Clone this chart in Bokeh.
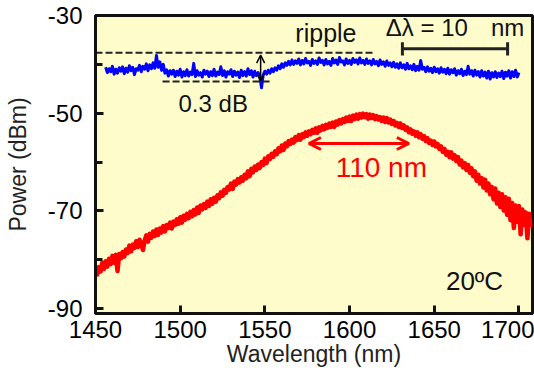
import numpy as np
from bokeh.plotting import figure
from bokeh.models import FixedTicker, Label, Arrow, OpenHead
from bokeh.embed import file_html
from bokeh.resources import INLINE

# ---------------- data ----------------
# red: broadband spectrum, one sample per nm from 1450 nm
red_start, red_step = 1450, 1
red_dbm = [
    -81.2, -83.0, -81.5, -82.4, -80.6, -81.9, -80.3, -81.4, -79.8, -80.9,
    -79.2, -80.6, -79.0, -82.3, -78.8, -79.7, -78.4, -79.3, -77.9, -78.6,
    -77.1, -78.3, -76.9, -77.6, -76.2, -77.4, -75.9, -76.8, -78.0, -76.1,
    -75.0, -76.3, -74.7, -75.5, -74.2, -75.1, -73.8, -74.9, -73.6, -74.4,
    -73.1, -74.2, -72.9, -73.5, -72.4, -73.6, -72.2, -72.9, -71.7, -72.6,
    -71.3, -72.4, -71.0, -71.8, -70.6, -71.5, -70.2, -71.1, -69.8, -70.7,
    -69.3, -70.4, -68.9, -69.7, -68.6, -69.4, -68.1, -69.0, -67.6, -68.5,
    -67.3, -68.1, -66.8, -67.4, -66.2, -66.9, -65.7, -66.3, -65.1, -65.6,
    -64.4, -65.5, -64.0, -64.6, -63.5, -64.2, -63.1, -63.8, -62.6, -63.3,
    -61.9, -62.9, -61.4, -62.1, -60.9, -61.6, -60.5, -61.2, -60.0, -60.6,
    -59.3, -60.2, -58.8, -59.4, -58.3, -58.9, -57.8, -58.4, -57.2, -57.8,
    -56.6, -57.5, -56.2, -56.8, -55.7, -56.3, -55.4, -56.0, -54.9, -55.5,
    -54.5, -55.4, -54.3, -54.9, -53.9, -54.6, -53.7, -54.3, -53.4, -54.0,
    -53.1, -54.0, -52.9, -53.5, -52.6, -53.3, -52.4, -53.0, -52.1, -52.8,
    -51.9, -52.8, -51.7, -52.3, -51.4, -52.1, -51.2, -51.8, -50.9, -51.6,
    -50.7, -51.6, -50.5, -51.2, -50.3, -51.1, -50.2, -50.9, -50.1, -50.8,
    -50.2, -51.1, -50.3, -51.0, -50.4, -51.2, -50.6, -51.3, -50.8, -51.6,
    -50.9, -51.8, -51.0, -51.9, -51.3, -52.2, -51.6, -52.5, -52.0, -52.8,
    -52.1, -53.0, -52.5, -53.4, -52.9, -53.9, -53.3, -54.2, -53.7, -54.6,
    -53.9, -54.9, -54.3, -55.2, -54.7, -55.7, -55.1, -56.1, -55.6, -56.5,
    -55.8, -56.8, -56.3, -57.3, -56.8, -57.9, -57.3, -58.5, -57.9, -59.0,
    -58.0, -59.3, -58.6, -59.8, -59.0, -60.5, -59.7, -61.1, -60.2, -61.6,
    -60.6, -62.2, -61.3, -62.9, -61.9, -63.8, -62.6, -64.4, -63.3, -65.2,
    -63.6, -65.8, -64.4, -66.6, -65.1, -67.6, -65.4, -68.5, -66.3, -69.2,
    -66.6, -69.9, -67.2, -70.8, -67.5, -71.9, -68.4, -73.5, -68.9, -72.2,
    -69.0, -74.8, -69.7, -72.9, -70.3, -75.6, -70.6, -73.4,
]

# blue: filtered spectrum, one sample per nm from 1456 nm
blue_start, blue_step = 1456, 1
blue_dbm = [
    -40.6, -41.7, -40.9, -41.5, -40.4, -42.0, -41.0, -41.8, -40.7, -41.4,
    -40.5, -41.9, -40.8, -41.6, -40.3, -41.3, -40.6, -42.1, -40.9, -41.2,
    -40.2, -41.5, -40.4, -41.0, -39.9, -41.3, -40.1, -40.9, -39.7, -40.8,
    -38.2, -40.6, -39.5, -41.2, -40.0, -41.8, -41.1, -42.4, -41.3, -42.0,
    -41.2, -42.5, -41.4, -42.2, -41.0, -42.6, -41.5, -42.3, -41.1, -42.4,
    -41.6, -42.1, -39.8, -42.5, -41.3, -42.2, -41.7, -42.6, -41.2, -42.0,
    -41.4, -42.5, -41.5, -42.3, -41.0, -42.4, -41.6, -42.1, -40.5, -42.3,
    -41.3, -42.6, -41.5, -42.0, -41.1, -42.5, -41.4, -42.2, -41.6, -42.7,
    -41.2, -42.3, -41.5, -42.4, -40.9, -42.1, -41.3, -42.6, -41.4, -42.3,
    -41.7, -42.5, -44.8, -42.2, -41.4, -42.0, -41.2, -41.8, -40.9, -41.5,
    -40.7, -41.2, -40.3, -40.9, -39.9, -40.6, -39.7, -40.2, -39.4, -40.1,
    -39.1, -40.0, -39.3, -39.8, -38.9, -40.1, -39.2, -39.9, -38.8, -39.7,
    -39.4, -40.2, -39.0, -39.8, -39.3, -40.0, -38.7, -39.6, -39.2, -40.1,
    -39.0, -39.9, -39.4, -40.2, -38.8, -39.7, -39.1, -40.0, -38.6, -39.5,
    -39.3, -40.1, -38.9, -39.8, -39.2, -40.0, -38.8, -39.6, -39.1, -39.9,
    -38.7, -39.7, -39.2, -40.0, -38.9, -39.8, -39.3, -40.1, -39.0, -39.9,
    -39.4, -40.3, -39.1, -40.0, -39.5, -40.4, -39.3, -40.2, -39.7, -40.5,
    -39.6, -40.6, -39.9, -40.8, -39.7, -40.7, -40.1, -41.0, -39.8, -40.9,
    -40.3, -41.1, -40.0, -41.3, -40.4, -41.2, -39.2, -41.0, -40.6, -41.5,
    -40.5, -41.4, -40.8, -41.7, -40.6, -41.5, -40.9, -41.8, -40.7, -41.6,
    -41.0, -41.9, -40.8, -42.0, -41.1, -41.7, -40.9, -42.2, -41.3, -41.9,
    -41.0, -42.3, -41.4, -42.1, -40.4, -42.0, -41.3, -42.4, -41.2, -42.2,
    -41.5, -42.6, -41.3, -42.4, -41.6, -42.8, -41.4, -43.0, -41.7, -42.6,
    -41.5, -42.7, -41.8, -42.5, -41.4, -42.9, -41.6, -42.4, -41.3, -42.8,
    -41.5, -42.5, -41.2, -42.6, -41.7,
]

x_ticks = [1450, 1500, 1550, 1600, 1650, 1700]
y_ticks = [-90, -70, -50, -30]
y_minor = [-80, -60, -40]

# annotation anchors (data units)
ripple_hi, ripple_lo = -37.6, -43.5
ripple_hi_x = [1450, 1613.7]
ripple_lo_x = [1489.6, 1553.4]
ripple_arrow_x = 1547.5
bar_x = [1631.2, 1693.3]
bar_y, bar_cap = -36.8, [-35.5, -38.2]
fwhm_x, fwhm_y = [1576.0, 1635.0], -56.2

red_wl = red_start + red_step * np.arange(len(red_dbm))
blue_wl = blue_start + blue_step * np.arange(len(blue_dbm))

FONT = "Liberation Sans"

p = figure(width=534, height=373, x_range=(1450, 1708), y_range=(-91, -30),
           output_backend="svg", toolbar_location=None,
           min_border_left=95, min_border_right=2, min_border_top=15,
           min_border_bottom=60,
           x_axis_label="Wavelength (nm)", y_axis_label="Power (dBm)")
p.background_fill_color = "#FFFCCC"
p.border_fill_color = "white"
p.grid.grid_line_color = None
p.outline_line_color = "#111111"
p.outline_line_width = 3
p.outline_line_alpha = 1

for ax in (p.xaxis[0], p.yaxis[0]):
    ax.axis_line_color = "#111111"
    ax.axis_line_width = 3
    ax.major_tick_in = 8
    ax.major_tick_out = 0
    ax.major_tick_line_width = 3
    ax.major_tick_line_color = "#111111"
    ax.major_label_text_font = FONT
    ax.major_label_text_font_size = "24px"
    ax.major_label_text_color = "black"
    ax.axis_label_text_font = FONT
    ax.axis_label_text_font_style = "normal"
    ax.axis_label_text_color = "#222222"

p.xaxis.ticker = FixedTicker(ticks=x_ticks)
p.xaxis.minor_tick_line_color = None
p.xaxis.major_label_standoff = 7
p.xaxis.axis_label_standoff = 0
p.xaxis.axis_label_text_font_size = "23px"

p.yaxis.ticker = FixedTicker(ticks=y_ticks, minor_ticks=y_minor)
p.yaxis.major_label_overrides = {t: "-%d" % abs(t) for t in y_ticks}
p.yaxis.minor_tick_in = 7
p.yaxis.minor_tick_out = 0
p.yaxis.minor_tick_line_width = 3
p.yaxis.minor_tick_line_color = "#111111"
p.yaxis.major_label_standoff = 13
p.yaxis.axis_label_standoff = 14
p.yaxis.axis_label_text_font_size = "23px"

# curves
p.line(red_wl, red_dbm, line_color="#FF0000", line_width=4.5, line_join="round")
p.line(blue_wl, blue_dbm, line_color="#0000FF", line_width=3, line_join="round")

# ripple dashed guides
p.line(ripple_hi_x, [ripple_hi, ripple_hi], line_color="#222222", line_width=2, line_dash="7 3")
p.line(ripple_lo_x, [ripple_lo, ripple_lo], line_color="#222222", line_width=2, line_dash="7 3")
p.add_layout(Arrow(x_start=ripple_arrow_x, y_start=ripple_lo + 0.1, x_end=ripple_arrow_x, y_end=ripple_hi - 0.5,
                   line_color="black", line_width=1.5,
                   start=OpenHead(size=8, line_width=1.5, line_color="black"),
                   end=OpenHead(size=8, line_width=1.5, line_color="black")))

# scale bar
p.segment(x0=[bar_x[0]], y0=[bar_y], x1=[bar_x[1]], y1=[bar_y], line_color="#222222", line_width=3)
p.segment(x0=bar_x, y0=[bar_cap[0]] * 2, x1=bar_x, y1=[bar_cap[1]] * 2, line_color="#222222", line_width=3)

# FWHM arrow
p.add_layout(Arrow(x_start=fwhm_x[0], y_start=fwhm_y, x_end=fwhm_x[1], y_end=fwhm_y,
                   line_color="#FF0000", line_width=3,
                   start=OpenHead(size=12, line_width=3, line_color="#FF0000"),
                   end=OpenHead(size=12, line_width=3, line_color="#FF0000")))

def lab(x, y, text, size, color="black", align="left", **kw):
    p.add_layout(Label(x=x, y=y, text=text, text_font=FONT, text_font_size=size,
                       text_color=color, text_align=align, text_baseline="alphabetic", **kw))

lab(1568.0, -33.5, "ripple", "25px", "#111111")
lab(1499.0, -48.1, "0.3 dB", "24px", "#111111")
lab(1621.4, -32.4, "\u0394\u03bb = 10", "24px", "#111111")
lab(1683.5, -32.4, "nm", "24px", "#111111")
lab(1591.8, -61.1, "110 nm", "28px", "#FF0000")
lab(1656.9, -84.4, "20\u00baC", "26px", "#111111")
# stray tick label of a neighbouring panel, at the far left edge of the image
lab(-95, -22, "0", "24px", "black", x_units="screen", y_units="screen", level="overlay")

open("out.html", "w").write(file_html(p, INLINE))
